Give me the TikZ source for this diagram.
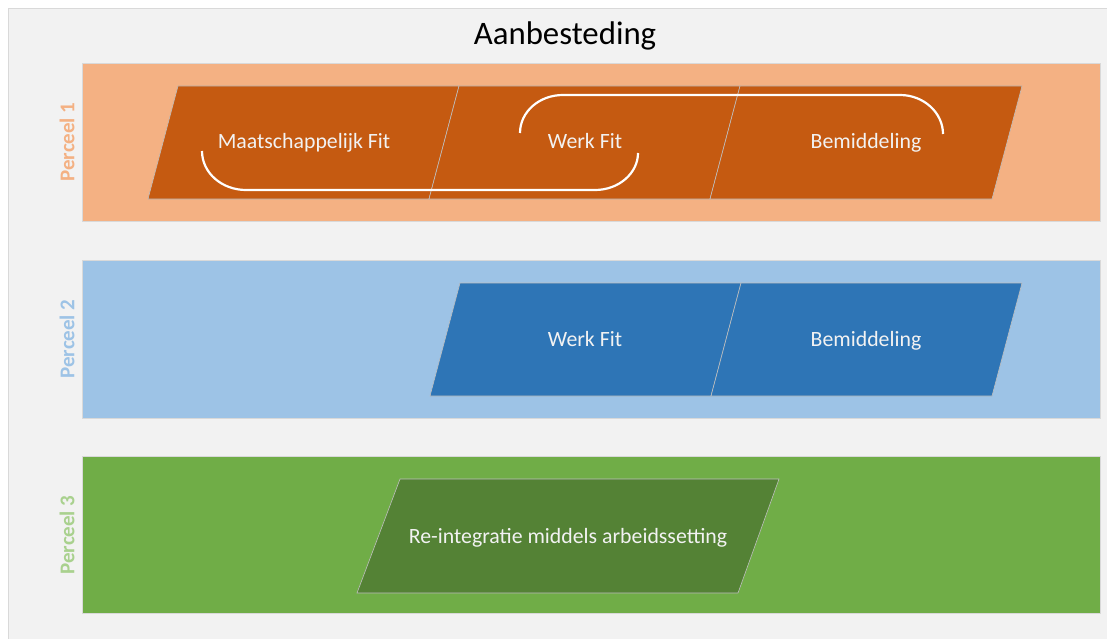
\documentclass[tikz,border=0pt]{standalone}
\usepackage{fontspec}
\setmainfont{Carlito}
\usepackage{tikz}

\definecolor{achter}{HTML}{F2F2F2}
\definecolor{rand}{HTML}{D9D9D9}
\definecolor{oranjelicht}{HTML}{F4B183}
\definecolor{oranje}{HTML}{C55A11}
\definecolor{blauwlicht}{HTML}{9DC3E6}
\definecolor{blauw}{HTML}{2E75B6}
\definecolor{groen}{HTML}{70AD47}
\definecolor{groendonker}{HTML}{548235}
\definecolor{groenlicht}{HTML}{A9D18E}

\begin{document}
\begin{tikzpicture}[
		x=1pt, y=-1pt,
		band/.style={fill=#1, draw=black!15, line width=0.8pt},
		blok/.style={fill=#1, draw=white!75!black, line width=0.6pt},
		tekst/.style={anchor=base, text=white!95!black, font=\fontsize{21.8}{26}\selectfont},
		perceel/.style={rotate=90, font=\fontsize{21}{25}\selectfont\bfseries},
		lus/.style={draw=white, line width=2.2pt}
	]
  \useasboundingbox (0,0) rectangle (1107,639);
  \fill[white] (0,0) rectangle (1107,639);
  \fill[achter] (8,9) rectangle (1107,639);
  \draw[rand, line width=1pt] (8,639) -- (8,9) -- (1107,9);

  \node (titel) [anchor=base] at (565,45) {\fontsize{32.8}{38}\selectfont Aanbesteding};

  % perceel 1
  \filldraw[band=oranjelicht] (82,63) rectangle (1100,221);
  \node (p1) [perceel, text=oranjelicht] at (67,142) {Perceel 1};
  \filldraw[blok=oranje] (178,86) -- (459,86) -- (429,199) -- (148,199) -- cycle;
  \filldraw[blok=oranje] (459,86) -- (740,86) -- (710,199) -- (429,199) -- cycle;
  \filldraw[blok=oranje] (740,86) -- (1022,86) -- (992,199) -- (710,199) -- cycle;
  \node (maatsch) [tekst] at (304,149) {Maatschappelijk Fit};
  \node (werk1) [tekst] at (585,149) {Werk Fit};
  \node (bemid1) [tekst] at (866,149) {Bemiddeling};
  \coordinate (lusA) at (202,151);
  \coordinate (lusB) at (638,153);
  \coordinate (lusC) at (520,133);
  \coordinate (lusD) at (943,134);
  \draw[lus] (lusA) .. controls (202,173) and (222,190) .. (246,190)
    -- (595,190) .. controls (619,190) and (638,173) .. (lusB);
  \draw[lus] (lusC) .. controls (520,112) and (539,95) .. (563,95)
    -- (900,95) .. controls (924,95) and (943,113) .. (lusD);

  % perceel 2
  \filldraw[band=blauwlicht] (82,260) rectangle (1100,418);
  \node (p2) [perceel, text=blauwlicht] at (67,339) {Perceel 2};
  \filldraw[blok=blauw] (460,283) -- (741,283) -- (711,396) -- (430,396) -- cycle;
  \filldraw[blok=blauw] (741,283) -- (1022,283) -- (992,396) -- (711,396) -- cycle;
  \node (werk2) [tekst] at (585,346) {Werk Fit};
  \node (bemid2) [tekst] at (866,346) {Bemiddeling};

  % perceel 3
  \filldraw[band=groen] (82,456) rectangle (1100,613);
  \node (p3) [perceel, text=groenlicht] at (67,535) {Perceel 3};
  \filldraw[blok=groendonker] (400,479) -- (779,479) -- (738,593) -- (357,593) -- cycle;
  \node (reint) [tekst] at (568,543) {Re-integratie middels arbeidssetting};
\end{tikzpicture}
\end{document}
